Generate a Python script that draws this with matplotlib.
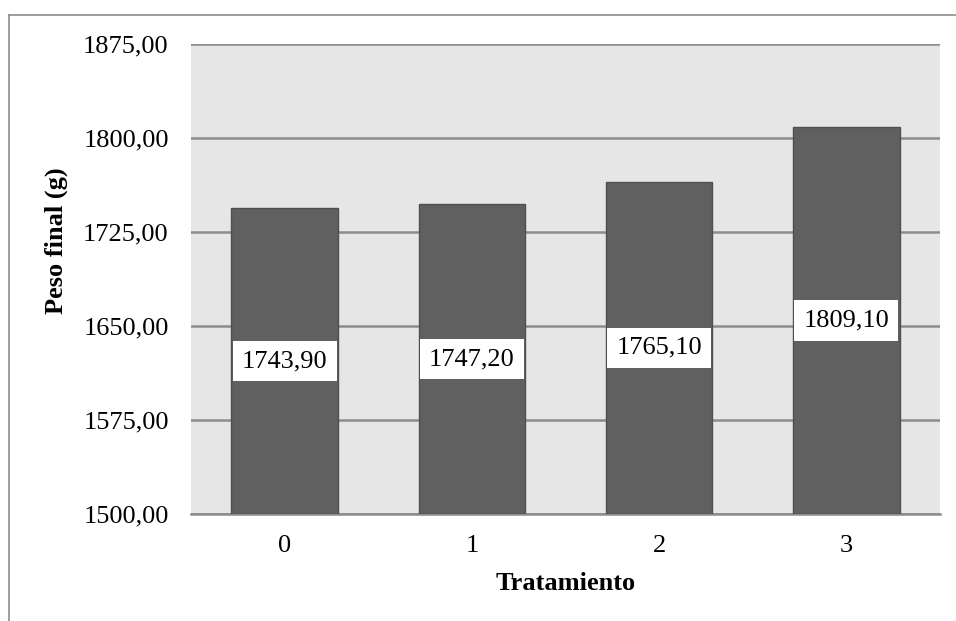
import matplotlib.pyplot as plt
from matplotlib.lines import Line2D

tratamientos = ["0", "1", "2", "3"]
peso_final = [1743.90, 1747.20, 1765.10, 1809.10]
y_ticks = [1500, 1575, 1650, 1725, 1800, 1875]

plt.rcParams['font.family'] = ['Liberation Serif', 'DejaVu Serif']

fig = plt.figure(figsize=(9.56, 6.21), dpi=100)
ax = fig.add_axes([191 / 956, 1 - 514 / 621, (940 - 191) / 956, (514 - 44) / 621])
ax.set_facecolor('#e6e6e6')

x = range(len(tratamientos))
ax.bar(x, [v - 1500 for v in peso_final], bottom=1500, width=0.57,
       color='#606060', edgecolor='#4f4f4f', linewidth=1, zorder=3)

for i, v in enumerate(peso_final):
    txt = f"{v:.2f}".replace('.', ',')
    ax.text(i, (1500 + v) / 2, txt, ha='center', va='center', fontsize=19, zorder=5,
            bbox=dict(boxstyle='square,pad=0.35', facecolor='white', edgecolor='none'))

ax.set_ylim(1500, 1875)
ax.set_xlim(-0.5, 3.5)
ax.set_yticks(y_ticks)
ax.set_yticklabels([f"{t:.2f}".replace('.', ',') for t in y_ticks])
ax.set_xticks(list(x))
ax.set_xticklabels(tratamientos)
ax.yaxis.grid(True, color='#8c8c8c', linewidth=1.8, zorder=1)
ax.set_axisbelow(True)
ax.tick_params(axis='both', length=0, labelsize=19)
ax.tick_params(axis='y', pad=16)
ax.tick_params(axis='x', pad=15)
for s in ['top', 'right', 'left']:
    ax.spines[s].set_visible(False)
ax.spines['bottom'].set_color('#8c8c8c')
ax.spines['bottom'].set_linewidth(1.8)

ax.set_xlabel("Tratamiento", fontsize=19, fontweight='bold', va='center')
ax.xaxis.set_label_coords(0.5, (514 - 584) / 470)
ax.set_ylabel("Peso final (g)", fontsize=19, fontweight='bold', va='center')
ax.yaxis.set_label_coords((56 - 191) / 749, (514 - 241) / 470)

# outer chart border (top and left visible)
fig.add_artist(Line2D([9 / 956, 1], [1 - 15 / 621, 1 - 15 / 621], color='#8c8c8c', linewidth=1.2))
fig.add_artist(Line2D([9 / 956, 9 / 956], [0, 1 - 15 / 621], color='#8c8c8c', linewidth=1.2))

fig.savefig('out.png', dpi=100)
